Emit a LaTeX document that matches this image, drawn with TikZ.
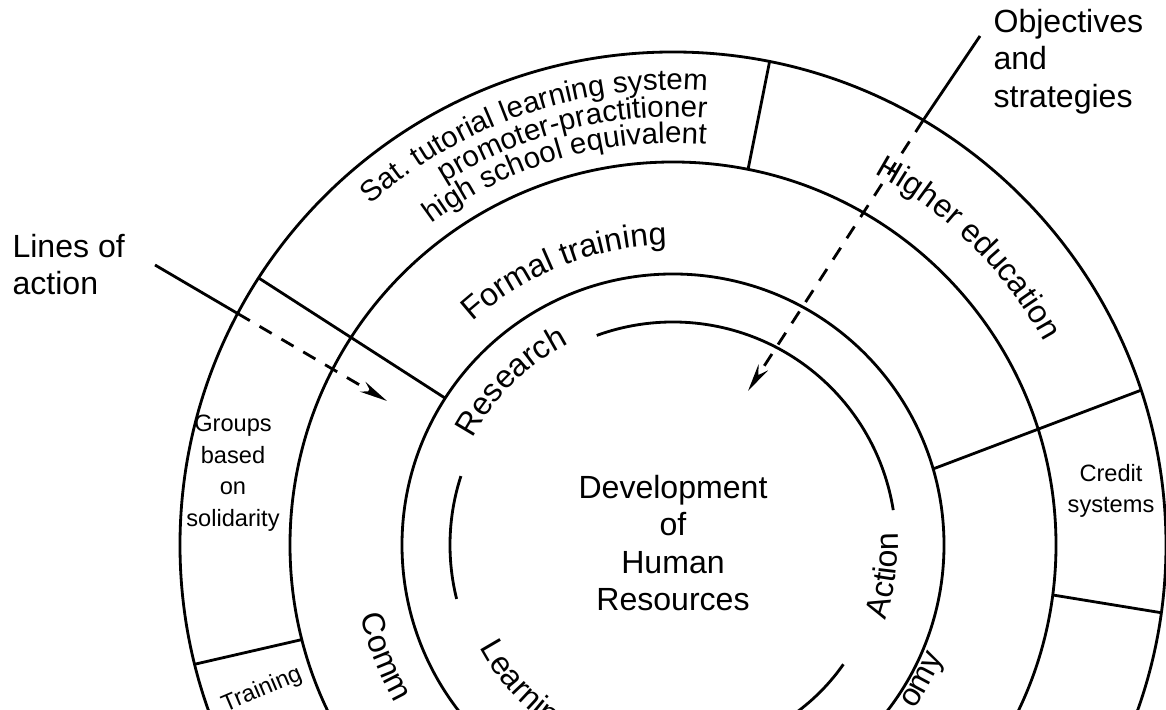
\documentclass[tikz,border=0pt]{standalone}
\usepackage{fontspec}
\setmainfont{Liberation Sans}
\usetikzlibrary{arrows.meta,decorations.text}

\newcommand{\ringfont}{\fontsize{11.4}{13.2}\selectfont}
\newcommand{\satfont}{\fontsize{10.5}{12}\selectfont}
\newcommand{\boxfont}{\fontsize{8.4}{11.2}\selectfont}

\begin{document}
\begin{tikzpicture}[x=0.0125cm, y=0.0125cm,
    ring/.style={line width=1pt},
    pointer/.style={line width=1pt},
    dashpointer/.style={pointer, dash pattern=on 5pt off 4pt, -{Stealth[length=10pt,width=4pt]}},
    bigtext/.style={font=\ringfont, inner sep=0pt},
    smalltext/.style={font=\boxfont, align=center, inner sep=0pt},
    ringtext/.style 2 args={decorate, decoration={text along path, text align=#2, text={|\ringfont|#1}}},
    sattext/.style={decorate, decoration={text along path, text align=right, text={|\satfont|#1}}}]
    \useasboundingbox (-673,-165) rectangle (493,545);
    \clip (-673,-165) rectangle (493,545);

    \foreach \r in {271,383,493} {
        \draw[ring] (0,0) circle[radius=\r];
    }
    \draw[ring] (110:223) arc[start angle=110, end angle=9, radius=223];
    \draw[ring] (162:223) arc[start angle=162, end angle=194, radius=223];
    \draw[ring] (-35:208) arc[start angle=-35, end angle=-80, radius=208];
    \foreach \a/\b/\ri in {147.2/147.2/271, 16.3/18.3/271, 78.7/78.7/383, -7.5/-7.9/383, 194.3/194/383} {
        \draw[ring] (\a:\ri) -- (\b:493);
    }

    \path[sattext={Sat. tutorial learning system}] (140:455) arc[start angle=140, end angle=85.7, radius=455];
    \path[sattext={promoter-practitioner}] (140:428) arc[start angle=140, end angle=85.5, radius=428];
    \path[sattext={high school equivalent}] (140:402) arc[start angle=140, end angle=85.3, radius=402];
    \path[ringtext={Formal training}{left}] (132:300) arc[start angle=132, end angle=75, radius=300];
    \path[ringtext={Research}{left}] (152:227) arc[start angle=152, end angle=100, radius=227];
    \path[ringtext={Higher education}{left}] (61.5:423) arc[start angle=61.5, end angle=15, radius=423];
    \path[ringtext={Action}{left}] (-19.5:225) arc[start angle=-19.5, end angle=20, radius=225];
    \path[ringtext={Comm}{left}] (192.8:320) arc[start angle=192.8, end angle=250, radius=320];
    \path[ringtext={Learning}{left}] (208:219) arc[start angle=208, end angle=280, radius=219];
    \path[ringtext={omy}{right}] (-60:292) arc[start angle=-60, end angle=-22.5, radius=292];

    \node[bigtext, align=center] (hrd) at (0,2) {Development\\of\\Human\\Resources};
    \node[bigtext, align=left, anchor=north west] (lines) at (-661,311) {Lines of\\action};
    \node[bigtext, align=left, anchor=north west] (goals) at (320,536) {Objectives\\and\\strategies};
    \node[smalltext] (groups) at (-440,72) {Groups\\based\\on\\solidarity};
    \node[smalltext] (credit) at (438,54) {Credit\\systems};
    \node[smalltext, rotate=23] (training) at (-411,-145) {Training};

    \coordinate (lines-end) at (-518,280);
    \coordinate (lines-rim) at (152:493);
    \coordinate (lines-tip) at (-286,144);
    \draw[pointer] (lines-end) -- (lines-rim);
    \draw[dashpointer] (lines-rim) -- (lines-tip);

    \coordinate (goals-end) at (307,509);
    \coordinate (goals-rim) at (59.5:493);
    \coordinate (goals-tip) at (75,154);
    \draw[pointer] (goals-end) -- (goals-rim);
    \draw[dashpointer] (goals-rim) -- (goals-tip);
\end{tikzpicture}
\end{document}
